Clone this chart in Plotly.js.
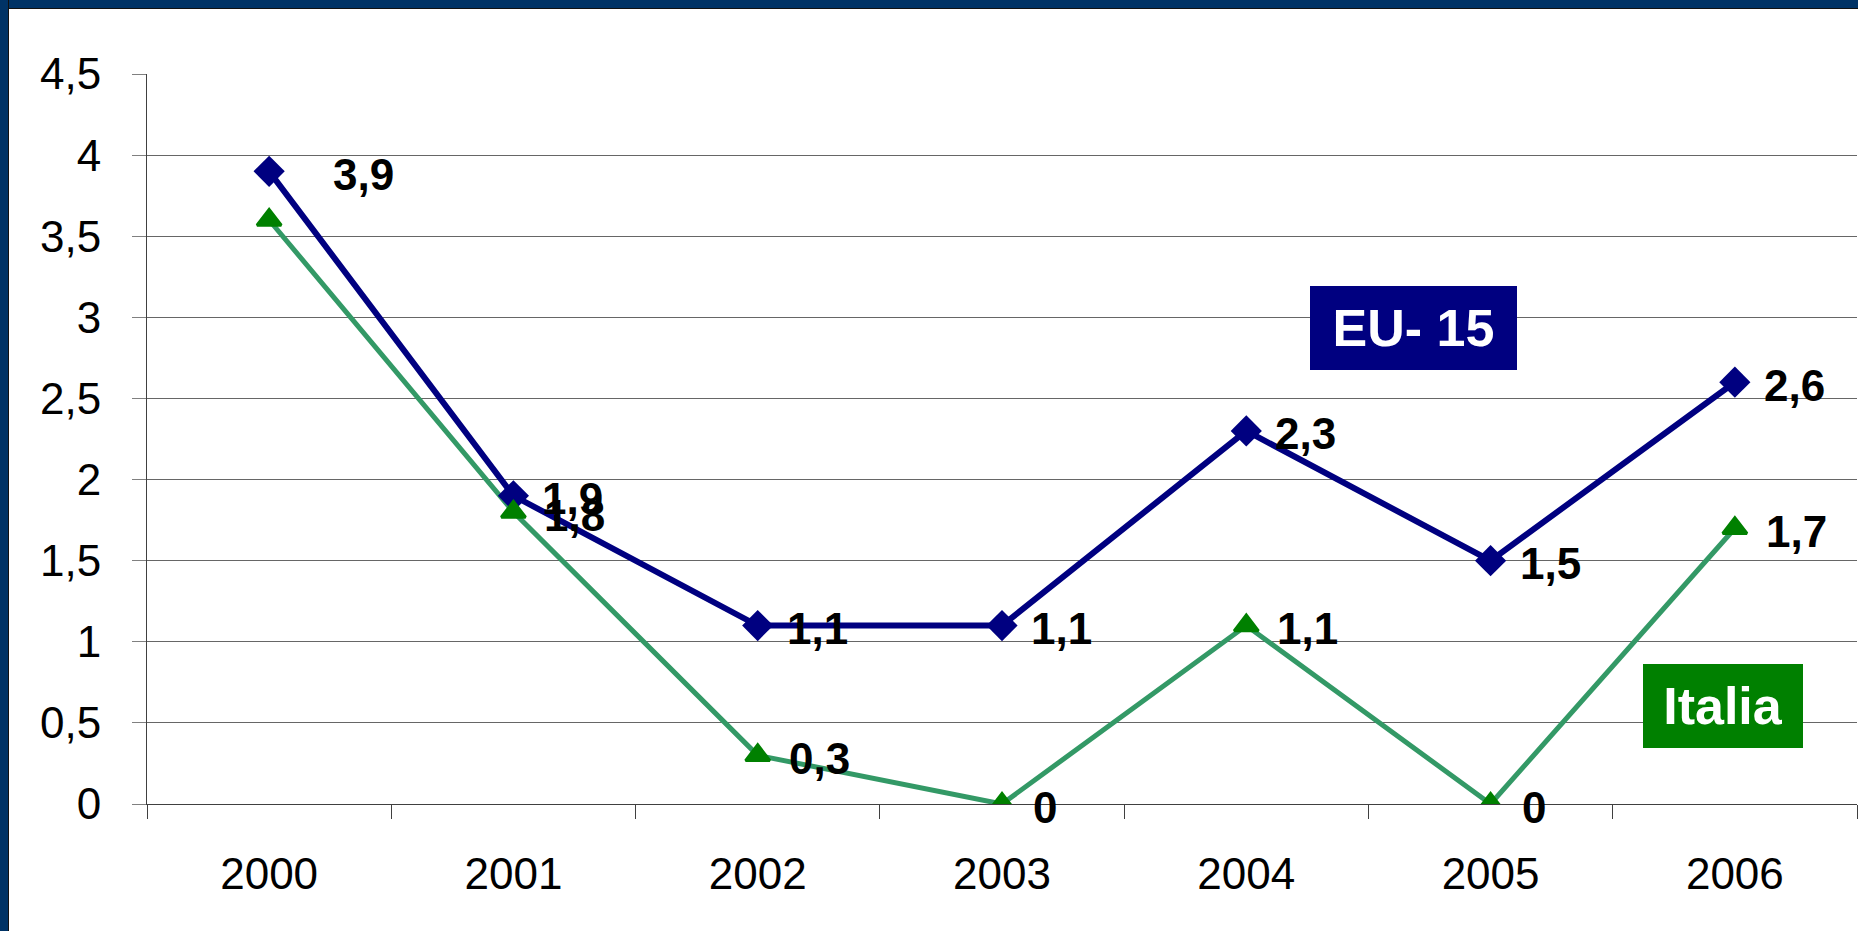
<!DOCTYPE html>
<html>
<head>
<meta charset="utf-8">
<script src="https://cdn.plot.ly/plotly-3.0.1.min.js"></script>
<style>
  html, body { margin: 0; padding: 0; background: #ffffff; }
  #wrap { position: relative; width: 1858px; height: 931px; overflow: hidden; }
  #chart { position: absolute; left: 0; top: 0; width: 1858px; height: 931px; }
  #bTop { position: absolute; left: 0; top: 0; width: 1858px; height: 8px; background: #003366; border-bottom: 1px solid #111; }
  #bLeft { position: absolute; left: 0; top: 0; width: 8px; height: 931px; background: #003366; border-right: 1px solid #111; }
</style>
</head>
<body>
<div id="wrap">
  <div id="chart"></div>
  <div id="bTop"></div>
  <div id="bLeft"></div>
</div>
<script>
// ---- data ----
var years = ['2000', '2001', '2002', '2003', '2004', '2005', '2006'];
var eu15 = [3.9, 1.9, 1.1, 1.1, 2.3, 1.5, 2.6];
var italia = [3.6, 1.8, 0.3, 0, 1.1, 0, 1.7];
var seriesNames = ['EU- 15', 'Italia'];
var yTicks = [0, 0.5, 1, 1.5, 2, 2.5, 3, 3.5, 4, 4.5];
// which points carry a value label in the reference
var euShowLabel = [true, true, true, true, true, true, true];
var itShowLabel = [false, true, true, true, true, true, true];

// ---- style ----
var FONT = '"Liberation Sans", Arial, Helvetica, sans-serif';
var euColor = '#000080';
var itLine = '#339966';
var itMarker = '#008000';
// label horizontal offsets (px) per point
var euShift = [64, 29, 29, 29, 29, 29, 29];
var itShift = [31, 31, 31, 31, 31, 31, 31];

function fmt(v) { return String(v).replace('.', ','); }

var traces = [
  { x: years, y: italia, type: 'scatter', mode: 'lines', name: seriesNames[1],
    line: { color: itLine, width: 5 }, hoverinfo: 'skip', showlegend: false },
  { x: years, y: eu15, type: 'scatter', mode: 'lines+markers', name: seriesNames[0],
    line: { color: euColor, width: 6 },
    marker: { symbol: 'diamond', size: 24, color: euColor }, showlegend: false },
  { x: years, y: italia, type: 'scatter', mode: 'markers', name: seriesNames[1],
    marker: { symbol: 'triangle-up', size: 21, color: itMarker, line: { color: itMarker, width: 3 } },
    showlegend: false }
];

var annotations = [];
function addLabels(vals, shifts, show) {
  for (var i = 0; i < years.length; i++) {
    if (!show[i]) continue;
    annotations.push({
      x: i, y: vals[i], xref: 'x', yref: 'y',
      text: '<b>' + fmt(vals[i]) + '</b>', showarrow: false,
      xanchor: 'left', yanchor: 'middle', xshift: shifts[i] - 2, yshift: -3,
      font: { family: FONT, size: 44, color: '#000000' }
    });
  }
}
addLabels(eu15, euShift, euShowLabel);
addLabels(italia, itShift, itShowLabel);

annotations.push({
  xref: 'paper', yref: 'paper', x: 0.7404, y: 0.652,
  xanchor: 'center', yanchor: 'middle', showarrow: false,
  text: '<b>' + seriesNames[0] + '</b>', bgcolor: euColor, borderpad: 0, borderwidth: 0,
  width: 207, height: 84, align: 'center', valign: 'middle',
  font: { family: FONT, size: 52, color: '#ffffff' }
});
annotations.push({
  xref: 'paper', yref: 'paper', x: 0.9216, y: 0.1342,
  xanchor: 'center', yanchor: 'middle', showarrow: false,
  text: '<b>' + seriesNames[1] + '</b>', bgcolor: itMarker, borderpad: 0, borderwidth: 0,
  width: 160, height: 84, align: 'center', valign: 'middle',
  font: { family: FONT, size: 52, color: '#ffffff' }
});

var layout = {
  width: 1858, height: 931,
  margin: { l: 147, r: 1, t: 74, b: 127, pad: 0 },
  paper_bgcolor: '#ffffff', plot_bgcolor: '#ffffff',
  separators: ', ',
  showlegend: false,
  font: { family: FONT, color: '#000000' },
  xaxis: {
    type: 'category', categoryorder: 'array', categoryarray: years,
    range: [-0.5, 6.5], fixedrange: true,
    showline: true, linecolor: '#404040', linewidth: 1,
    ticks: 'outside', tickson: 'boundaries', ticklen: 14, tickcolor: '#404040', tickwidth: 1,
    showgrid: false, zeroline: false,
    tickfont: { family: FONT, size: 44, color: '#000000' },
    ticklabelstandoff: 31
  },
  yaxis: {
    range: [0, 4.5], tickmode: 'array', tickvals: yTicks,
    showline: true, linecolor: '#404040', linewidth: 1,
    ticks: 'outside', ticklen: 14, tickcolor: '#808080', tickwidth: 1,
    showgrid: true, gridcolor: '#666666', gridwidth: 1, zeroline: false,
    tickfont: { family: FONT, size: 44, color: '#000000' },
    ticklabelstandoff: 22
  },
  shapes: [
    { type: 'line', xref: 'paper', yref: 'y', x0: 0.001, x1: 1, y0: 4.5, y1: 4.5,
      line: { color: '#ffffff', width: 3 }, layer: 'below' }
  ],
  annotations: annotations
};

Plotly.newPlot('chart', traces, layout, { displayModeBar: false, staticPlot: true });
</script>
</body>
</html>
